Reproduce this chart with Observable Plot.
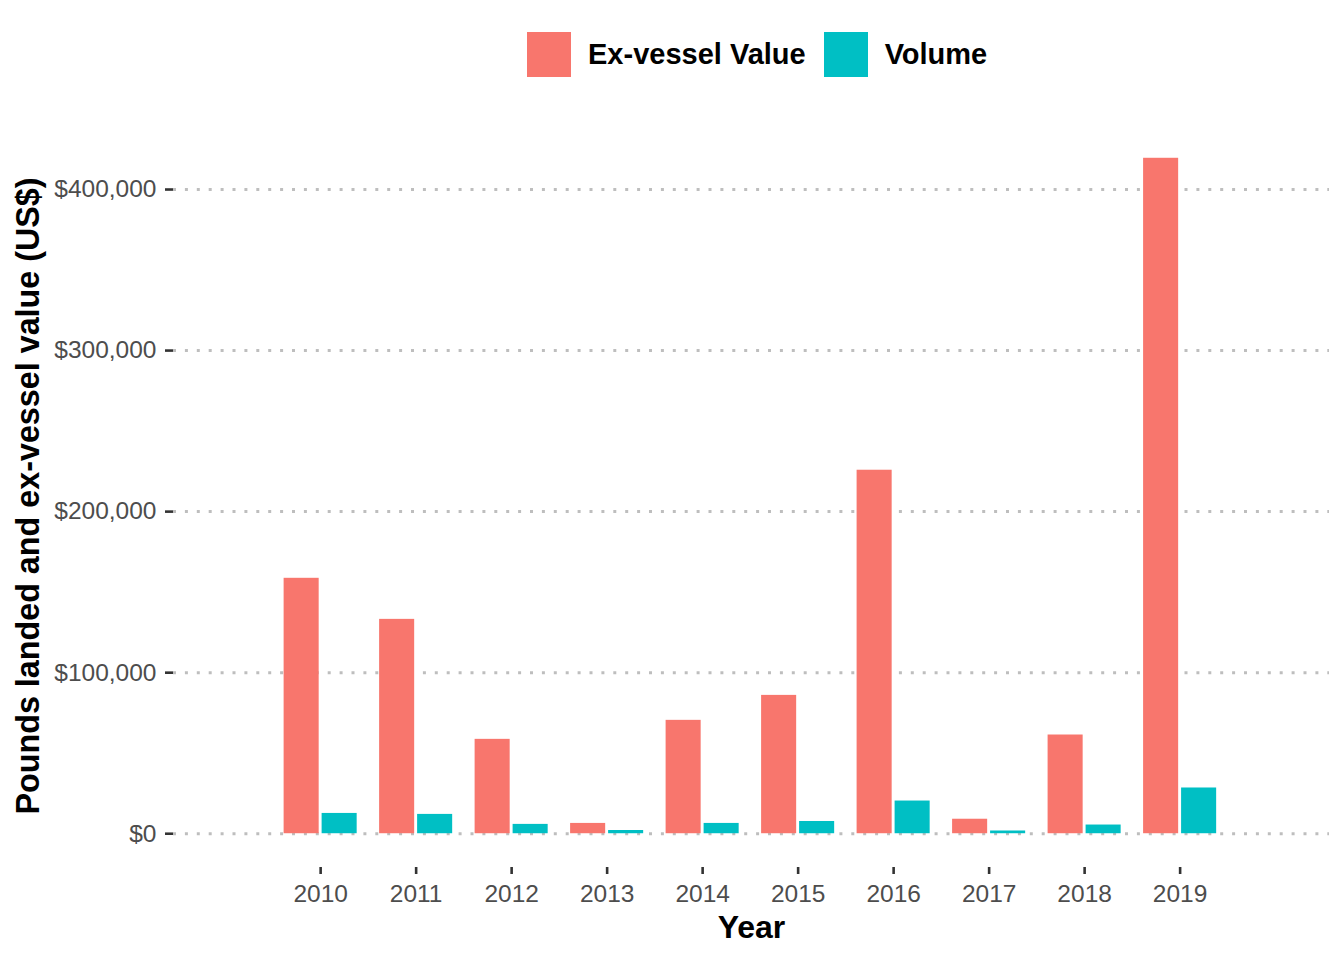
<!DOCTYPE html>
<html>
<head>
<meta charset="utf-8">
<script src="https://cdn.jsdelivr.net/npm/d3@7"></script>
<script src="https://cdn.jsdelivr.net/npm/@observablehq/plot@0.6"></script>
<style>
  html, body { margin: 0; padding: 0; background: #fff; }
  body { width: 1344px; height: 960px; font-family: "Liberation Sans", Arial, sans-serif; }
  #legend { position: relative; height: 100px; }
  #legend .items { position: absolute; left: 527px; top: 32px; display: flex; align-items: center; height: 45px; }
  #legend .sw { width: 44px; height: 45px; margin-right: 17px; }
  #legend .lab { font-weight: bold; font-size: 29px; color: #000; margin-right: 18px; }
</style>
</head>
<body>
<div id="legend"></div>
<div id="chart"></div>
<script>
// ---- data ----
const years = ["2010", "2011", "2012", "2013", "2014", "2015", "2016", "2017", "2018", "2019"];
const exVesselValue = [158600, 133100, 58600, 6400, 70400, 85900, 225700, 9000, 61300, 419400];
const volume = [12600, 12000, 5800, 2000, 6400, 7600, 20300, 1700, 5400, 28400];
const seriesNames = ["Ex-vessel Value", "Volume"];
const seriesColors = ["#F8766D", "#00BFC4"];
const yTicks = [0, 100000, 200000, 300000, 400000];
const yTitle = "Pounds landed and ex-vessel value (US$)";
const xTitle = "Year";

// ---- legend ----
const items = document.createElement("div");
items.className = "items";
seriesNames.forEach((name, i) => {
  const sw = document.createElement("div");
  sw.className = "sw";
  sw.style.background = seriesColors[i];
  const lab = document.createElement("div");
  lab.className = "lab";
  lab.textContent = name;
  items.appendChild(sw);
  items.appendChild(lab);
});
document.getElementById("legend").appendChild(items);

// ---- table ----
const valueRows = years.map((y, i) => ({year: y, value: exVesselValue[i]}));
const volumeRows = years.map((y, i) => ({year: y, value: volume[i]}));

const yMax = d3.max(exVesselValue.concat(volume));
const yPad = 0.05 * yMax;

const font = "'Liberation Sans', Arial, sans-serif";

const chart = Plot.plot({
  width: 1344,
  height: 860,
  marginLeft: 173,
  marginRight: 15,
  marginTop: 24,
  marginBottom: 93,
  style: {fontFamily: font, background: "#fff"},
  x: {type: "band", domain: years, paddingInner: 0.235, paddingOuter: 1.17, align: 0.495, round: false},
  y: {domain: [-yPad, yMax + yPad]},
  marks: [
    Plot.ruleY(yTicks, {stroke: "#bebebe", strokeWidth: 3, strokeDasharray: "3,8.9"}),
    Plot.barY(valueRows, {x: "year", y: "value", fill: seriesColors[0], insetRight: 38}),
    Plot.barY(volumeRows, {x: "year", y: "value", fill: seriesColors[1], insetLeft: 38}),
    Plot.axisY(yTicks, {
      tickSize: 8, tickPadding: 9, fontSize: 24.5, stroke: "#333333", fill: "#4d4d4d",
      strokeWidth: 2.6, tickFormat: d3.format("$,"), label: null
    }),
    Plot.axisX({
      tickSize: 7, tickPadding: 10, fontSize: 24.5, stroke: "#333333", fill: "#4d4d4d",
      strokeWidth: 2.6, label: null
    }),
    Plot.text([yTitle], {
      frameAnchor: "left", rotate: -90, dx: -145, lineAnchor: "middle", textAnchor: "middle",
      fontSize: 32.3, fontWeight: "bold", fill: "#000"
    }),
    Plot.text([xTitle], {
      frameAnchor: "bottom", dy: 60, lineAnchor: "middle", textAnchor: "middle",
      fontSize: 32, fontWeight: "bold", fill: "#000"
    })
  ]
});
document.getElementById("chart").appendChild(chart);
</script>
</body>
</html>
